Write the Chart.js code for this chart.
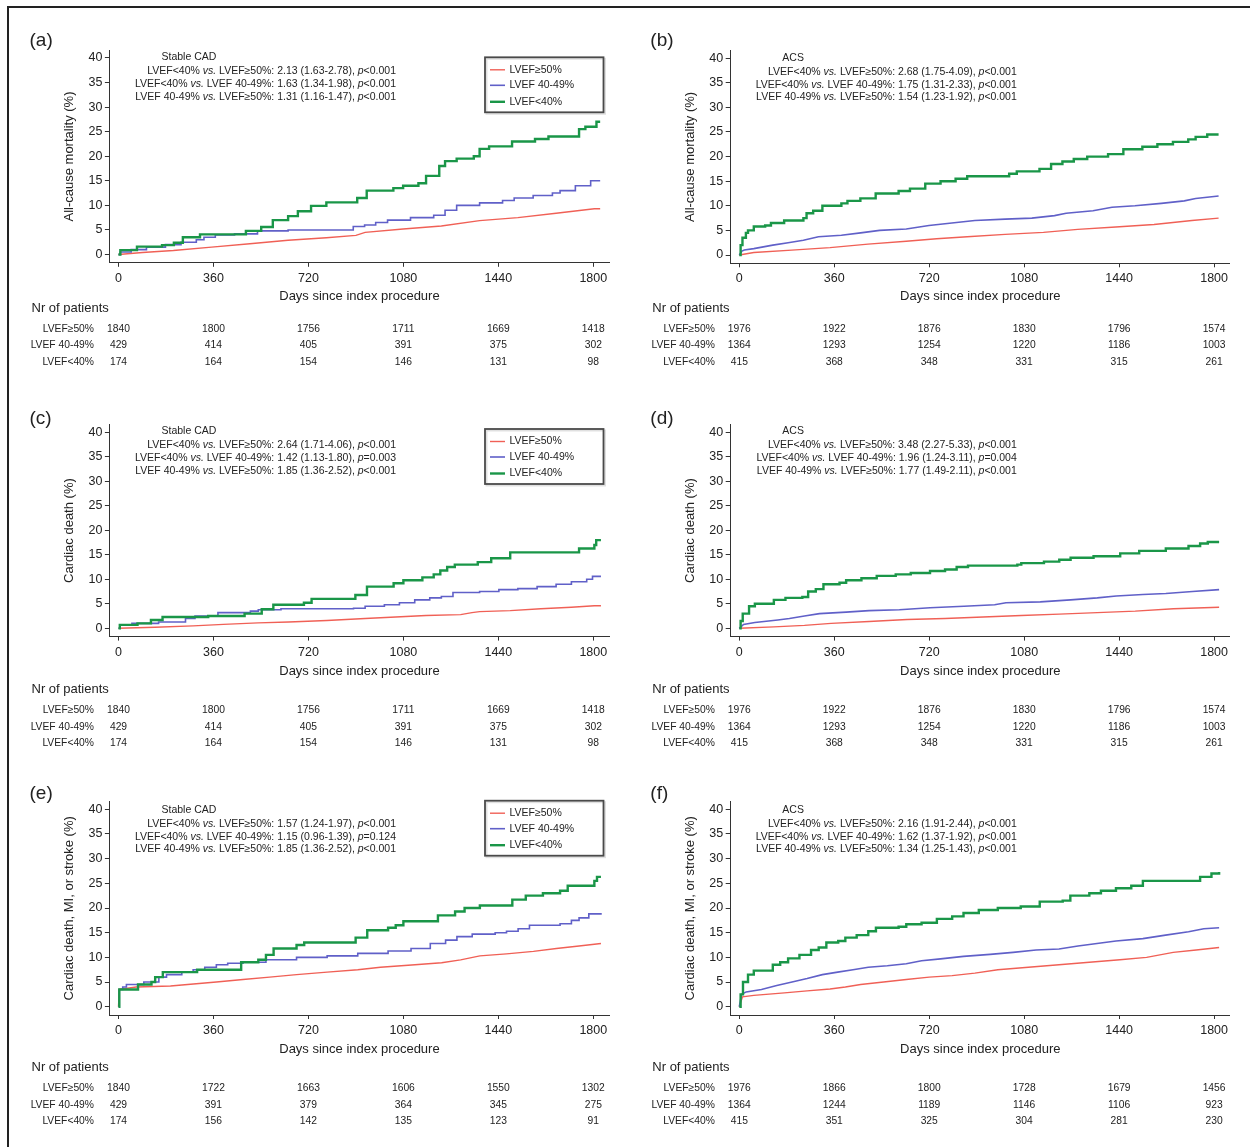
<!DOCTYPE html>
<html>
<head>
<meta charset="utf-8">
<script src="https://cdn.jsdelivr.net/npm/chart.js@4.4.1/dist/chart.umd.min.js"></script>
<style>
  html, body { margin: 0; padding: 0; background: #fff; }
  body { width: 1250px; height: 1147px; position: relative; overflow: hidden; }
  #frame { position: absolute; left: 6.5px; top: 5.5px; right: -10px; bottom: -10px;
           border-top: 2px solid #222; border-left: 2px solid #222; }
  canvas { position: absolute; }
</style>
</head>
<body>
<div id="frame"></div>
<script>
// ---- data: [day, cumulative %] ----
// (a) all-cause mortality, stable CAD
const cadMortEF50 = [[0,0],[91,0.4],[208,0.8],[353,1.5],[498,2.2],[643,2.9],[788,3.4],[900,3.9],[935,4.5],[1079,5.2],[1224,5.8],[1369,6.9],[1514,7.5],[1659,8.4],[1804,9.3],[1826,9.3]];
const cadMortEF4049 = [[0,0],[7,0.5],[48,1],[106,1.5],[178,2],[237,2.5],[295,3],[324,3.5],[367,4],[440,4.2],[527,4.8],[643,5],[846,5],[890,5.7],[933,6],[975,6.5],[1020,7],[1107,7.5],[1195,8],[1238,9],[1282,10],[1369,10.5],[1456,11],[1500,11.5],[1572,12],[1645,12.5],[1674,13],[1732,14],[1790,15],[1826,15]];
const cadMortEF40 = [[0,0],[7,0.9],[70,1.6],[165,1.9],[210,2.4],[244,3.5],[309,4.1],[483,4.8],[541,5.6],[585,7],[643,7.8],[680,8.8],[730,9.9],[788,10.6],[905,11.5],[941,13],[1042,13.5],[1079,14],[1137,14.5],[1166,16],[1216,18],[1238,19],[1282,19.5],[1347,20],[1369,21.5],[1405,22],[1492,23],[1579,23.5],[1630,24],[1746,25.5],[1770,26],[1812,27],[1826,27]];
// (b) all-cause mortality, ACS
const acsMortEF50 = [[0,0],[55,0.5],[199,1],[344,1.5],[488,2.2],[633,2.8],[748,3.3],[864,3.7],[1008,4.2],[1153,4.6],[1283,5.2],[1427,5.7],[1572,6.2],[1716,7],[1817,7.5]];
const acsMortEF4049 = [[0,0],[10,0.8],[19,1],[55,1.3],[127,2],[185,2.5],[243,3],[300,3.7],[387,4],[460,4.5],[532,5],[633,5.3],[719,6],[806,6.5],[893,7],[1008,7.3],[1109,7.5],[1195,8],[1239,8.5],[1341,9],[1413,9.7],[1500,10],[1600,10.5],[1687,11],[1730,11.5],[1817,12]];
const acsMortEF40 = [[0,0],[5,2],[12,3.5],[25,4.5],[33,5],[55,5.8],[98,6],[120,6.5],[170,7],[243,7.5],[255,8.5],[280,9],[315,10],[387,10.5],[410,11],[459,11.5],[517,12.5],[604,13],[647,13.5],[705,14.5],[763,15],[820,15.5],[864,16],[1023,16.5],[1052,17],[1138,17.5],[1182,18.5],[1225,19],[1268,19.5],[1319,20],[1398,20.5],[1456,21.5],[1528,22],[1585,22.5],[1644,23],[1702,23.5],[1730,24],[1774,24.5],[1817,24.5]];
// (c) cardiac death, stable CAD
const cadCardEF50 = [[0,0],[138,0.2],[283,0.5],[398,0.8],[529,1.1],[645,1.3],[790,1.6],[935,2],[1051,2.3],[1166,2.6],[1297,2.8],[1340,3.2],[1369,3.4],[1485,3.6],[1601,4],[1717,4.3],[1804,4.6],[1829,4.6]];
const cadCardEF4049 = [[0,0],[5,0.7],[51,1],[152,1.3],[254,2],[290,2.5],[377,3.2],[500,3.5],[530,3.8],[616,4],[891,4.1],[935,4.5],[1008,4.8],[1065,5.2],[1123,5.8],[1180,6.2],[1224,6.5],[1268,7.3],[1369,7.5],[1442,7.9],[1514,8.1],[1587,8.5],[1659,9],[1717,9.5],[1775,10],[1797,10.6],[1829,10.6]];
const cadCardEF40 = [[0,0],[5,0.7],[72,1],[123,1.7],[167,2.3],[340,2.5],[478,3],[543,3.9],[587,4.8],[703,5.2],[732,6],[898,6.8],[942,8.5],[1043,9.2],[1080,9.8],[1152,10.4],[1195,11],[1220,11.8],[1246,12.5],[1275,13],[1362,13.5],[1413,14.3],[1485,15.5],[1746,16.3],[1804,17],[1811,18],[1829,18]];
// (d) cardiac death, ACS
const acsCardEF50 = [[0,0],[131,0.3],[247,0.6],[348,1],[492,1.4],[636,1.8],[780,2],[924,2.3],[1069,2.6],[1213,2.9],[1357,3.2],[1501,3.5],[1646,4],[1819,4.3]];
const acsCardEF4049 = [[0,0],[16,0.8],[59,1.2],[146,1.7],[190,2],[247,2.5],[304,3],[405,3.3],[492,3.6],[607,3.8],[723,4.2],[852,4.5],[968,4.8],[1011,5.2],[1141,5.4],[1256,5.8],[1357,6.2],[1429,6.6],[1530,6.9],[1617,7.1],[1718,7.5],[1819,7.9]];
const acsCardEF40 = [[0,0],[5,1.5],[13,3],[37,4.5],[59,5],[131,5.8],[175,6.2],[239,6.4],[261,7.5],[290,8],[319,9],[380,9.3],[405,9.8],[463,10.2],[521,10.7],[593,11],[650,11.3],[723,11.7],[780,12],[824,12.5],[867,12.8],[1054,13],[1069,13.3],[1155,13.6],[1213,14],[1256,14.4],[1343,14.7],[1444,15.3],[1516,15.8],[1617,16.3],[1703,16.8],[1747,17.3],[1776,17.6],[1819,17.6]];
// (e) cardiac death, MI or stroke, stable CAD
const cadMaceEF50 = [[0,0],[3,3.5],[67,4],[197,4.2],[284,4.6],[371,5],[472,5.5],[573,6],[675,6.5],[791,7],[907,7.5],[993,8],[1124,8.5],[1225,8.9],[1297,9.5],[1370,10.3],[1471,10.7],[1573,11.2],[1660,11.8],[1746,12.3],[1829,12.8]];
const cadMaceEF4049 = [[0,0],[3,3.5],[16,4],[30,4.5],[96,5],[153,6],[182,6.5],[240,7],[283,7.5],[327,8],[371,8.5],[414,8.8],[472,9],[559,9.5],[675,10],[791,10.3],[907,10.8],[1022,11.3],[1109,11.8],[1182,12.8],[1240,13.5],[1283,14.2],[1341,14.7],[1428,15],[1471,15.3],[1515,15.8],[1558,16.5],[1674,16.8],[1717,17.5],[1746,18],[1783,18.8],[1829,19]];
const cadMaceEF40 = [[0,0],[3,3.5],[74,4.5],[125,5],[139,6],[168,7],[298,7.5],[465,9],[530,9.5],[559,10.5],[588,11.8],[675,12.5],[704,13],[899,14],[943,15.5],[1022,16],[1051,16.5],[1080,17.3],[1211,18.5],[1276,19.3],[1312,20],[1370,20.5],[1493,21.7],[1544,22.5],[1609,23],[1674,23.5],[1703,24.5],[1804,25.5],[1814,26.3],[1829,26.3]];
// (f) cardiac death, MI or stroke, ACS
const acsMaceEF50 = [[0,0],[12,2],[55,2.3],[171,2.8],[257,3.2],[344,3.6],[402,4],[460,4.5],[547,5],[633,5.5],[720,6],[807,6.3],[893,6.8],[980,7.5],[1096,8],[1212,8.5],[1327,9],[1443,9.5],[1544,10],[1645,11],[1732,11.5],[1819,12]];
const acsMaceEF4049 = [[0,0],[9,2.5],[26,3],[84,3.5],[142,4.3],[200,5],[257,5.7],[315,6.5],[373,7],[431,7.5],[489,8],[561,8.3],[633,8.7],[691,9.3],[763,9.7],[850,10.2],[951,10.6],[1038,11],[1125,11.5],[1212,11.7],[1284,12.3],[1356,12.8],[1428,13.3],[1530,13.8],[1616,14.5],[1703,15.2],[1761,15.8],[1819,16]];
const acsMaceEF40 = [[0,0],[5,2.5],[14,5],[33,6.5],[55,7.3],[127,8.5],[155,9],[185,9.8],[228,10.5],[272,11.5],[301,12],[330,13],[375,13.3],[402,14],[445,14.5],[489,15.3],[518,16],[604,16.2],[633,16.7],[691,17],[749,17.8],[807,18.3],[850,19],[908,19.6],[980,20],[1067,20.3],[1139,21.3],[1226,21.5],[1255,22.5],[1327,23],[1371,23.5],[1428,24],[1486,24.5],[1530,25.5],[1747,26.3],[1790,27],[1819,27.3]];

// ---- axis ticks, groups, numbers at risk ----
const dayTicks = [0, 360, 720, 1080, 1440, 1800];
const pctTicks = [0, 5, 10, 15, 20, 25, 30, 35, 40];
const groups = ['LVEF≥50%', 'LVEF 40-49%', 'LVEF<40%'];

const nrCadEF50 = [1840, 1800, 1756, 1711, 1669, 1418];
const nrCadEF4049 = [429, 414, 405, 391, 375, 302];
const nrCadEF40 = [174, 164, 154, 146, 131, 98];
const nrAcsEF50 = [1976, 1922, 1876, 1830, 1796, 1574];
const nrAcsEF4049 = [1364, 1293, 1254, 1220, 1186, 1003];
const nrAcsEF40 = [415, 368, 348, 331, 315, 261];
const nrCadMaceEF50 = [1840, 1722, 1663, 1606, 1550, 1302];
const nrCadMaceEF4049 = [429, 391, 379, 364, 345, 275];
const nrCadMaceEF40 = [174, 156, 142, 135, 123, 91];
const nrAcsMaceEF50 = [1976, 1866, 1800, 1728, 1679, 1456];
const nrAcsMaceEF4049 = [1364, 1244, 1189, 1146, 1106, 923];
const nrAcsMaceEF40 = [415, 351, 325, 304, 281, 230];

// hazard ratios ( _x_ = italic )
const statsA = ['LVEF<40% _vs._ LVEF≥50%: 2.13 (1.63-2.78), _p_<0.001', 'LVEF<40% _vs._ LVEF 40-49%: 1.63 (1.34-1.98), _p_<0.001', 'LVEF 40-49% _vs._ LVEF≥50%: 1.31 (1.16-1.47), _p_<0.001'];
const statsB = ['LVEF<40% _vs._ LVEF≥50%: 2.68 (1.75-4.09), _p_<0.001', 'LVEF<40% _vs._ LVEF 40-49%: 1.75 (1.31-2.33), _p_<0.001', 'LVEF 40-49% _vs._ LVEF≥50%: 1.54 (1.23-1.92), _p_<0.001'];
const statsC = ['LVEF<40% _vs._ LVEF≥50%: 2.64 (1.71-4.06), _p_<0.001', 'LVEF<40% _vs._ LVEF 40-49%: 1.42 (1.13-1.80), _p_=0.003', 'LVEF 40-49% _vs._ LVEF≥50%: 1.85 (1.36-2.52), _p_<0.001'];
const statsD = ['LVEF<40% _vs._ LVEF≥50%: 3.48 (2.27-5.33), _p_<0.001', 'LVEF<40% _vs._ LVEF 40-49%: 1.96 (1.24-3.11), _p_=0.004', 'LVEF 40-49% _vs._ LVEF≥50%: 1.77 (1.49-2.11), _p_<0.001'];
const statsE = ['LVEF<40% _vs._ LVEF≥50%: 1.57 (1.24-1.97), _p_<0.001', 'LVEF<40% _vs._ LVEF 40-49%: 1.15 (0.96-1.39), _p_=0.124', 'LVEF 40-49% _vs._ LVEF≥50%: 1.85 (1.36-2.52), _p_<0.001'];
const statsF = ['LVEF<40% _vs._ LVEF≥50%: 2.16 (1.91-2.44), _p_<0.001', 'LVEF<40% _vs._ LVEF 40-49%: 1.62 (1.37-1.92), _p_<0.001', 'LVEF 40-49% _vs._ LVEF≥50%: 1.34 (1.25-1.43), _p_<0.001'];

// ---- look ----
const FONT = '"Liberation Sans", Arial, Helvetica, sans-serif';
const INK = '#222';
const COLORS = ['rgb(240,96,86)', 'rgb(96,96,200)', 'rgb(26,150,72)'];
const WIDTHS = [1.4, 1.6, 2.4];
const CW = 615, CH = 375;
const PX_PER_DAY = 474.8 / 1800;

Chart.defaults.font.family = FONT;
Chart.defaults.color = INK;

// page geometry of each panel: x0/y0 = pixel of day 0 / 0%, m = px per %
const panels = [
  { id: 'a', cx: 10,  cy: 15,  x0: 118.5, y0: 254.5,  m: 4.915, yTitle: 'All-cause mortality (%)', group: 'Stable CAD', stats: statsA,
    series: [cadMortEF50, cadMortEF4049, cadMortEF40], stepped: [false, true, true],
    risk: [nrCadEF50, nrCadEF4049, nrCadEF40], legendTop: -197.2, labelY: 40.7, titleOff: 42, nrOff: 53.8, rowOff: [74.7, 91, 107.7] },
  { id: 'b', cx: 631, cy: 15,  x0: 739.3, y0: 255,    m: 4.92, yTitle: 'All-cause mortality (%)', group: 'ACS', stats: statsB,
    series: [acsMortEF50, acsMortEF4049, acsMortEF40], stepped: [false, false, true],
    risk: [nrAcsEF50, nrAcsEF4049, nrAcsEF40], legendTop: null, labelY: 40.7, titleOff: 41.7, nrOff: 53.3, rowOff: [74, 90.3, 107.3] },
  { id: 'c', cx: 10,  cy: 390, x0: 118.5, y0: 628.3,  m: 4.9, yTitle: 'Cardiac death (%)', group: 'Stable CAD', stats: statsC,
    series: [cadCardEF50, cadCardEF4049, cadCardEF40], stepped: [false, true, true],
    risk: [nrCadEF50, nrCadEF4049, nrCadEF40], legendTop: -199.3, labelY: 419, titleOff: 43.4, nrOff: 61, rowOff: [81.7, 99, 115] },
  { id: 'd', cx: 631, cy: 390, x0: 739.3, y0: 628.3,  m: 4.9, yTitle: 'Cardiac death (%)', group: 'ACS', stats: statsD,
    series: [acsCardEF50, acsCardEF4049, acsCardEF40], stepped: [false, false, true],
    risk: [nrAcsEF50, nrAcsEF4049, nrAcsEF40], legendTop: null, labelY: 419, titleOff: 43.4, nrOff: 61, rowOff: [81.7, 99, 115] },
  { id: 'e', cx: 10,  cy: 768, x0: 118.5, y0: 1006.7, m: 4.935, yTitle: 'Cardiac death, MI, or stroke (%)', group: 'Stable CAD', stats: statsE,
    series: [cadMaceEF50, cadMaceEF4049, cadMaceEF40], stepped: [false, true, true],
    risk: [nrCadMaceEF50, nrCadMaceEF4049, nrCadMaceEF40], legendTop: -206, labelY: 794, titleOff: 42.6, nrOff: 60.6, rowOff: [81.6, 98.3, 114.3] },
  { id: 'f', cx: 631, cy: 768, x0: 739.3, y0: 1006.7, m: 4.935, yTitle: 'Cardiac death, MI, or stroke (%)', group: 'ACS', stats: statsF,
    series: [acsMaceEF50, acsMaceEF4049, acsMaceEF40], stepped: [false, false, true],
    risk: [nrAcsMaceEF50, nrAcsMaceEF4049, nrAcsMaceEF40], legendTop: null, labelY: 794, titleOff: 42.6, nrOff: 60.6, rowOff: [81.6, 98.3, 114.3] }
];

// right-aligned line with _italic_ parts
function drawRich(ctx, text, xRight, y, size) {
  const parts = text.split('_');
  const fonts = parts.map((p, i) => (i % 2 ? 'italic ' : '') + size + 'px ' + FONT);
  let w = 0;
  parts.forEach((p, i) => { ctx.font = fonts[i]; w += ctx.measureText(p).width; });
  let x = xRight - w;
  parts.forEach((p, i) => { ctx.font = fonts[i]; ctx.fillText(p, x, y); x += ctx.measureText(p).width; });
}

// panel letter, HR text, legend box and numbers-at-risk table
function makeExtras(p) {
  return {
    id: 'extras',
    afterDraw(chart) {
      const ctx = chart.ctx;
      const xs = chart.scales.x;
      const X = x => x - p.cx, Y = y => y - p.cy;
      ctx.save();
      ctx.fillStyle = INK;
      ctx.textBaseline = 'middle';
      ctx.textAlign = 'left';

      ctx.font = '19px ' + FONT;
      ctx.fillText('(' + p.id + ')', X(p.x0 - 89), Y(p.labelY));

      ctx.font = '10.5px ' + FONT;
      ctx.fillText(p.group, X(p.x0 + 43), Y(p.y0 - 197));
      const statY = [-183, -170, -157.5];
      p.stats.forEach((s, i) => drawRich(ctx, s, X(p.x0 + 277.5), Y(p.y0 + statY[i]), 10.5));

      if (p.legendTop !== null) {
        const bx = X(p.x0 + 366.5), by = Y(p.y0 + p.legendTop);
        ctx.strokeStyle = 'rgba(0,0,0,0.12)';
        ctx.lineWidth = 2;
        ctx.strokeRect(bx + 1.5, by + 1.5, 118.5, 55);
        ctx.strokeStyle = '#4a4a4a';
        ctx.lineWidth = 1.8;
        ctx.strokeRect(bx, by, 118.5, 55);
        const rows = [12.5, 28, 44.5];
        groups.forEach((g, i) => {
          ctx.strokeStyle = COLORS[i];
          ctx.lineWidth = WIDTHS[i];
          ctx.beginPath();
          ctx.moveTo(bx + 5, by + rows[i]);
          ctx.lineTo(bx + 20, by + rows[i]);
          ctx.stroke();
          ctx.font = '10.5px ' + FONT;
          ctx.fillText(g, bx + 24.5, by + rows[i]);
        });
      }

      ctx.font = '13px ' + FONT;
      ctx.textAlign = 'left';
      ctx.fillText('Nr of patients', X(p.x0 - 87), Y(p.y0 + p.nrOff));
      ctx.font = '10.3px ' + FONT;
      groups.forEach((g, i) => {
        const y = Y(p.y0 + p.rowOff[i]);
        ctx.textAlign = 'right';
        ctx.fillText(g, X(p.x0 - 24.5), y);
        ctx.textAlign = 'center';
        p.risk[i].forEach((n, j) => ctx.fillText(String(n), xs.getPixelForValue(dayTicks[j]), y));
      });
      ctx.restore();
    }
  };
}

function buildPanel(p) {
  const canvas = document.createElement('canvas');
  canvas.width = CW; canvas.height = CH;
  canvas.style.left = p.cx + 'px';
  canvas.style.top = p.cy + 'px';
  document.body.appendChild(canvas);

  // Stata-like axes: lines sit a few px outside the 0 / 40 / 1800 ticks
  const gapL = 8.6, gapR = 15.7, gapT = 7.7, gapB = 8.3;
  const left = p.x0 - gapL - p.cx;
  const right = p.x0 + 1800 * PX_PER_DAY + gapR - p.cx;
  const top = p.y0 - 40 * p.m - gapT - p.cy;
  const bottom = p.y0 + gapB - p.cy;
  const lh = 13 * 1.2;
  const padLeft = p.x0 - 49 - p.cx - lh / 2;
  const xBottom = p.y0 + p.titleOff - p.cy + lh / 2;

  // draw order: green on top
  const datasets = [2, 1, 0].map(i => ({
    label: groups[i],
    data: p.series[i],
    borderColor: COLORS[i],
    borderWidth: WIDTHS[i],
    stepped: p.stepped[i] ? 'before' : false,
    pointRadius: 0,
    fill: false,
    tension: 0
  }));

  new Chart(canvas, {
    type: 'line',
    data: { datasets: datasets },
    options: {
      responsive: false,
      animation: false,
      devicePixelRatio: 1,
      layout: { padding: { left: padLeft, right: CW - right, top: top, bottom: CH - xBottom } },
      plugins: { legend: { display: false }, tooltip: { enabled: false } },
      scales: {
        x: {
          type: 'linear',
          min: -gapL / PX_PER_DAY,
          max: 1800 + gapR / PX_PER_DAY,
          afterBuildTicks: s => { s.ticks = dayTicks.map(v => ({ value: v })); },
          afterFit: s => { s.height = xBottom - bottom; },
          ticks: { font: { size: 12.5 }, color: INK, padding: 4, maxRotation: 0, autoSkip: false,
                   callback: v => String(v) },
          grid: { drawOnChartArea: false, color: '#333', tickLength: 4 },
          border: { color: '#333', width: 1 },
          title: { display: true, text: 'Days since index procedure', font: { size: 13 }, color: INK, padding: 0 }
        },
        y: {
          type: 'linear',
          min: -gapB / p.m,
          max: 40 + gapT / p.m,
          afterBuildTicks: s => { s.ticks = pctTicks.map(v => ({ value: v })); },
          afterFit: s => { s.width = left - padLeft; },
          ticks: { font: { size: 12.5 }, color: INK, padding: 2.5, callback: v => String(v) },
          grid: { drawOnChartArea: false, color: '#333', tickLength: 5 },
          border: { color: '#333', width: 1 },
          title: { display: true, text: p.yTitle, font: { size: 13 }, color: INK, padding: 0 }
        }
      }
    },
    plugins: [makeExtras(p)]
  });
}

panels.forEach(buildPanel);
</script>
</body>
</html>
